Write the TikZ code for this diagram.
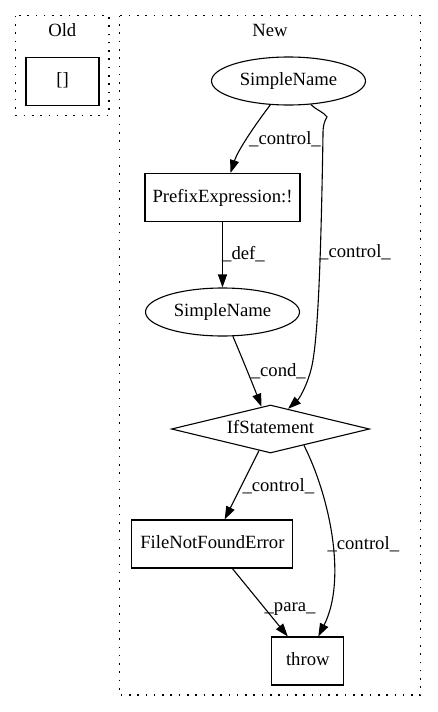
\documentclass[tikz,border=0pt]{standalone}
\usepackage{fontspec}
\setmainfont{Liberation Serif}
\usetikzlibrary{shapes.geometric,arrows.meta}
\begin{document}
\begin{tikzpicture}[x=1pt,y=-1pt,
  every node/.style={font=\fontsize{18.67}{21}\selectfont, inner sep=0pt, text height=13pt, text depth=4pt},
  cluster/.style={draw, line width=1.2pt, dash pattern=on 1.6pt off 6.7pt},
  boxnode/.style={draw, line width=1.1pt, rectangle, minimum height=48pt},
  ellnode/.style={draw, line width=1.1pt, ellipse, minimum width=154pt, minimum height=48pt},
  edge/.style={draw, line width=1.1pt, -{Triangle[length=13pt,width=9pt]}},
  lbl/.style={}]
\useasboundingbox (0,0) rectangle (437,712);
% clusters
\draw[cluster] (15.7,15.7) rectangle (109,115.7);
\node (oldlbl) at (62.3,31.7) {Old};
\node[boxnode, minimum width=73pt] (old) at (62.5,81.3) {[]};
\draw[cluster] (119.3,15.7) rectangle (420.7,695);
\node (newlbl) at (270,31.7) {New};
% nodes
\node[ellnode] (sn1) at (288.5,81) {SimpleName};
\node[boxnode, minimum width=155pt] (pre) at (222.5,197.5) {PrefixExpression:!};
\node[ellnode] (sn2) at (222.5,312) {SimpleName};
\node[draw, line width=1.1pt, diamond, aspect=4.1, minimum width=198pt, minimum height=48pt] (if) at (270.5,429) {IfStatement};
\node[boxnode, minimum width=161pt] (fnf) at (212.4,544) {FileNotFoundError};
\node[boxnode, minimum width=72pt] (throw) at (307.8,661) {throw};
\coordinate (k1) at (327,117);
\coordinate (k2) at (323,134);
% edges
\draw[edge] (sn1) .. controls (255,125) and (238,150) .. (pre);
\node[lbl] (l1) at (285,140) {\_control\_};
\draw[line width=1.1pt] (sn1) .. controls (316,110) and (324,112) .. (k1) .. controls (324,122) and (323,126) .. (k2);
\draw[edge] (k2) .. controls (321,260) and (318,330) .. (313,360) .. controls (310,380) and (300,398) .. (if.49);
\node[lbl] (l2) at (355,253) {\_control\_};
\draw[edge] (pre) -- (sn2);
\node[lbl] (l3) at (243.5,255) {\_def\_};
\draw[edge] (sn2) .. controls (243,360) and (255,390) .. (if.112);
\node[lbl] (l4) at (278.3,371.7) {\_cond\_};
\draw[edge] (if.-118) -- (fnf);
\node[lbl] (l5) at (278.3,486.7) {\_control\_};
\draw[edge] (if.-26) .. controls (330,497) and (347,580) .. ([xshift=10.5pt]throw.north);
\node[lbl] (l6) at (363.3,545) {\_control\_};
\draw[edge] (fnf) -- (throw);
\node[lbl] (l7) at (290,606.7) {\_para\_};
\end{tikzpicture}
\end{document}
